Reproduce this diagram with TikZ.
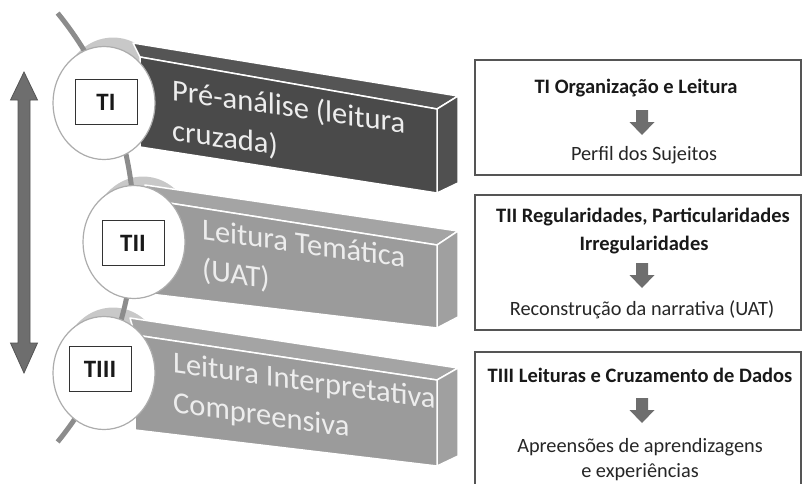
\documentclass[tikz,border=0pt]{standalone}
\usepackage{fontspec}
\setmainfont{Carlito}
\usetikzlibrary{shapes.geometric}
\definecolor{spinegray}{HTML}{8C8C8C}
\definecolor{darkfront}{HTML}{4A4A4A}
\definecolor{darktop}{HTML}{555555}
\definecolor{darkside}{HTML}{505050}
\definecolor{lightfront}{HTML}{9B9B9B}
\definecolor{lighttop}{HTML}{A4A4A4}
\definecolor{lightside}{HTML}{A0A0A0}
\definecolor{bartext}{HTML}{EDEDED}
\definecolor{arrowgray}{HTML}{6E6E6E}
\definecolor{arrowline}{HTML}{555555}
\definecolor{halo}{HTML}{C8C8C8}
\definecolor{boxline}{HTML}{555555}
\begin{document}
\begin{tikzpicture}[x=1pt,y=-1pt,
  spine/.style={draw=spinegray, line width=5pt},
  face/.style={draw=white, line width=1.5pt, line join=round},
  halostyle/.style={ellipse, fill=halo, minimum width=102pt, minimum height=113pt, inner sep=0pt},
  disc/.style={ellipse, fill=white, draw=gray!65, line width=1.2pt, minimum width=102pt, minimum height=113pt, inner sep=0pt},
  tbox/.style={draw=black!80, fill=white, line width=1pt, minimum width=62pt, minimum height=45pt, inner sep=0pt, font=\fontsize{25}{30}\selectfont\bfseries, text=black!90},
  bartxt/.style={text=bartext, align=left, inner sep=0pt, yslant=-0.14, font=\fontsize{30.5}{40}\selectfont},
  rbox/.style={draw=boxline, line width=1.2pt},
  boldtxt/.style={anchor=base, inner sep=0pt, font=\fontsize{20.5}{24}\selectfont\bfseries, text=black!90},
  regtxt/.style={anchor=base, inner sep=0pt, font=\fontsize{20.3}{24}\selectfont, text=black!85},
  darr/.pic={\fill[arrowgray] (-6,0) -- (6,0) -- (6,12) -- (12.5,12) -- (0,25) -- (-12.5,12) -- (-6,12) -- cycle;}
]
\useasboundingbox (0,0) rectangle (804,483);
\clip (0,0) rectangle (804,483);

% halos behind circles
\node[halostyle] (h1) at (113,94) {};
\node[halostyle] (h2) at (143,233) {};
\node[halostyle] (h3) at (113,364) {};

% spine
\draw[spine] plot[domain=-39.2:39.2, samples=80] ({-205.3+339.3*cos(\x)}, {227.5+339.3*sin(\x)});

% left double arrow
\filldraw[fill=arrowgray, draw=arrowline, line width=0.8pt]
  (24,72) -- (37.5,100) -- (30,100) -- (30,343) -- (37.5,343) -- (24,373)
  -- (10.5,343) -- (18,343) -- (18,100) -- (10.5,100) -- cycle;

% bar 1 (dark)
\filldraw[face, fill=darktop] (133,43) -- (458,96) -- (437,109) -- (140,57) -- cycle;
\filldraw[face, fill=darkside] (437,109) -- (458,96) -- (458,183) -- (437,193) -- cycle;
\filldraw[face, fill=darkfront] (140,57) -- (437,109) -- (437,193) -- (140,147) -- cycle;

% bar 2
\filldraw[face, fill=lighttop] (145,185) -- (458,231) -- (437,245) -- (150,200) -- cycle;
\filldraw[face, fill=lightside] (437,245) -- (458,231) -- (458,317) -- (437,328) -- cycle;
\filldraw[face, fill=lightfront] (150,200) -- (437,245) -- (437,328) -- (150,294) -- cycle;

% bar 3
\filldraw[face, fill=lighttop] (130,318) -- (458,368) -- (437,380) -- (135,335) -- cycle;
\filldraw[face, fill=lightside] (437,380) -- (458,368) -- (458,456) -- (437,466) -- cycle;
\filldraw[face, fill=lightfront] (135,335) -- (437,380) -- (437,466) -- (135,430) -- cycle;

% bar texts
\node[bartxt, anchor=north west] (l1) at (172,78) {Pré-análise (leitura\\cruzada)};
\node[bartxt, anchor=north west] (l2) at (202,218) {Leitura Temática\\(UAT)};
\node[bartxt, anchor=north west] (l3) at (173,351) {Leitura Interpretativa\\Compreensiva};

% circles
\node[disc] (c1) at (104,103) {};
\node[disc] (c2) at (134,242) {};
\node[disc] (c3) at (104,373) {};

% labels in circles
\node[tbox] (b1) at (106,102) {TI};
\node[tbox] (b2) at (133,243) {TII};
\node[tbox] (b3) at (100,369) {TIII};

% right boxes
\draw[rbox] (475,60) rectangle (801,175);
\draw[rbox] (475,195) rectangle (801,330);
\draw[rbox] (475,352) rectangle (801,500);

\node[boldtxt] (r1a) at (636,93) {TI Organização e Leitura};
\pic at (642,110) {darr};
\node[regtxt] (r1b) at (644,160) {Perfil dos Sujeitos};

\node[boldtxt] (r2a) at (643,222) {TII Regularidades, Particularidades};
\node[boldtxt] (r2b) at (644,250) {Irregularidades};
\pic at (642,263) {darr};
\node[regtxt] (r2c) at (642,315) {Reconstrução da narrativa (UAT)};

\node[boldtxt] (r3a) at (640,382) {TIII Leituras e Cruzamento de Dados};
\pic at (642,398) {darr};
\node[regtxt] (r3b) at (640,452) {Apreensões de aprendizagens};
\node[regtxt] (r3c) at (640,477) {e experiências};
\end{tikzpicture}
\end{document}
